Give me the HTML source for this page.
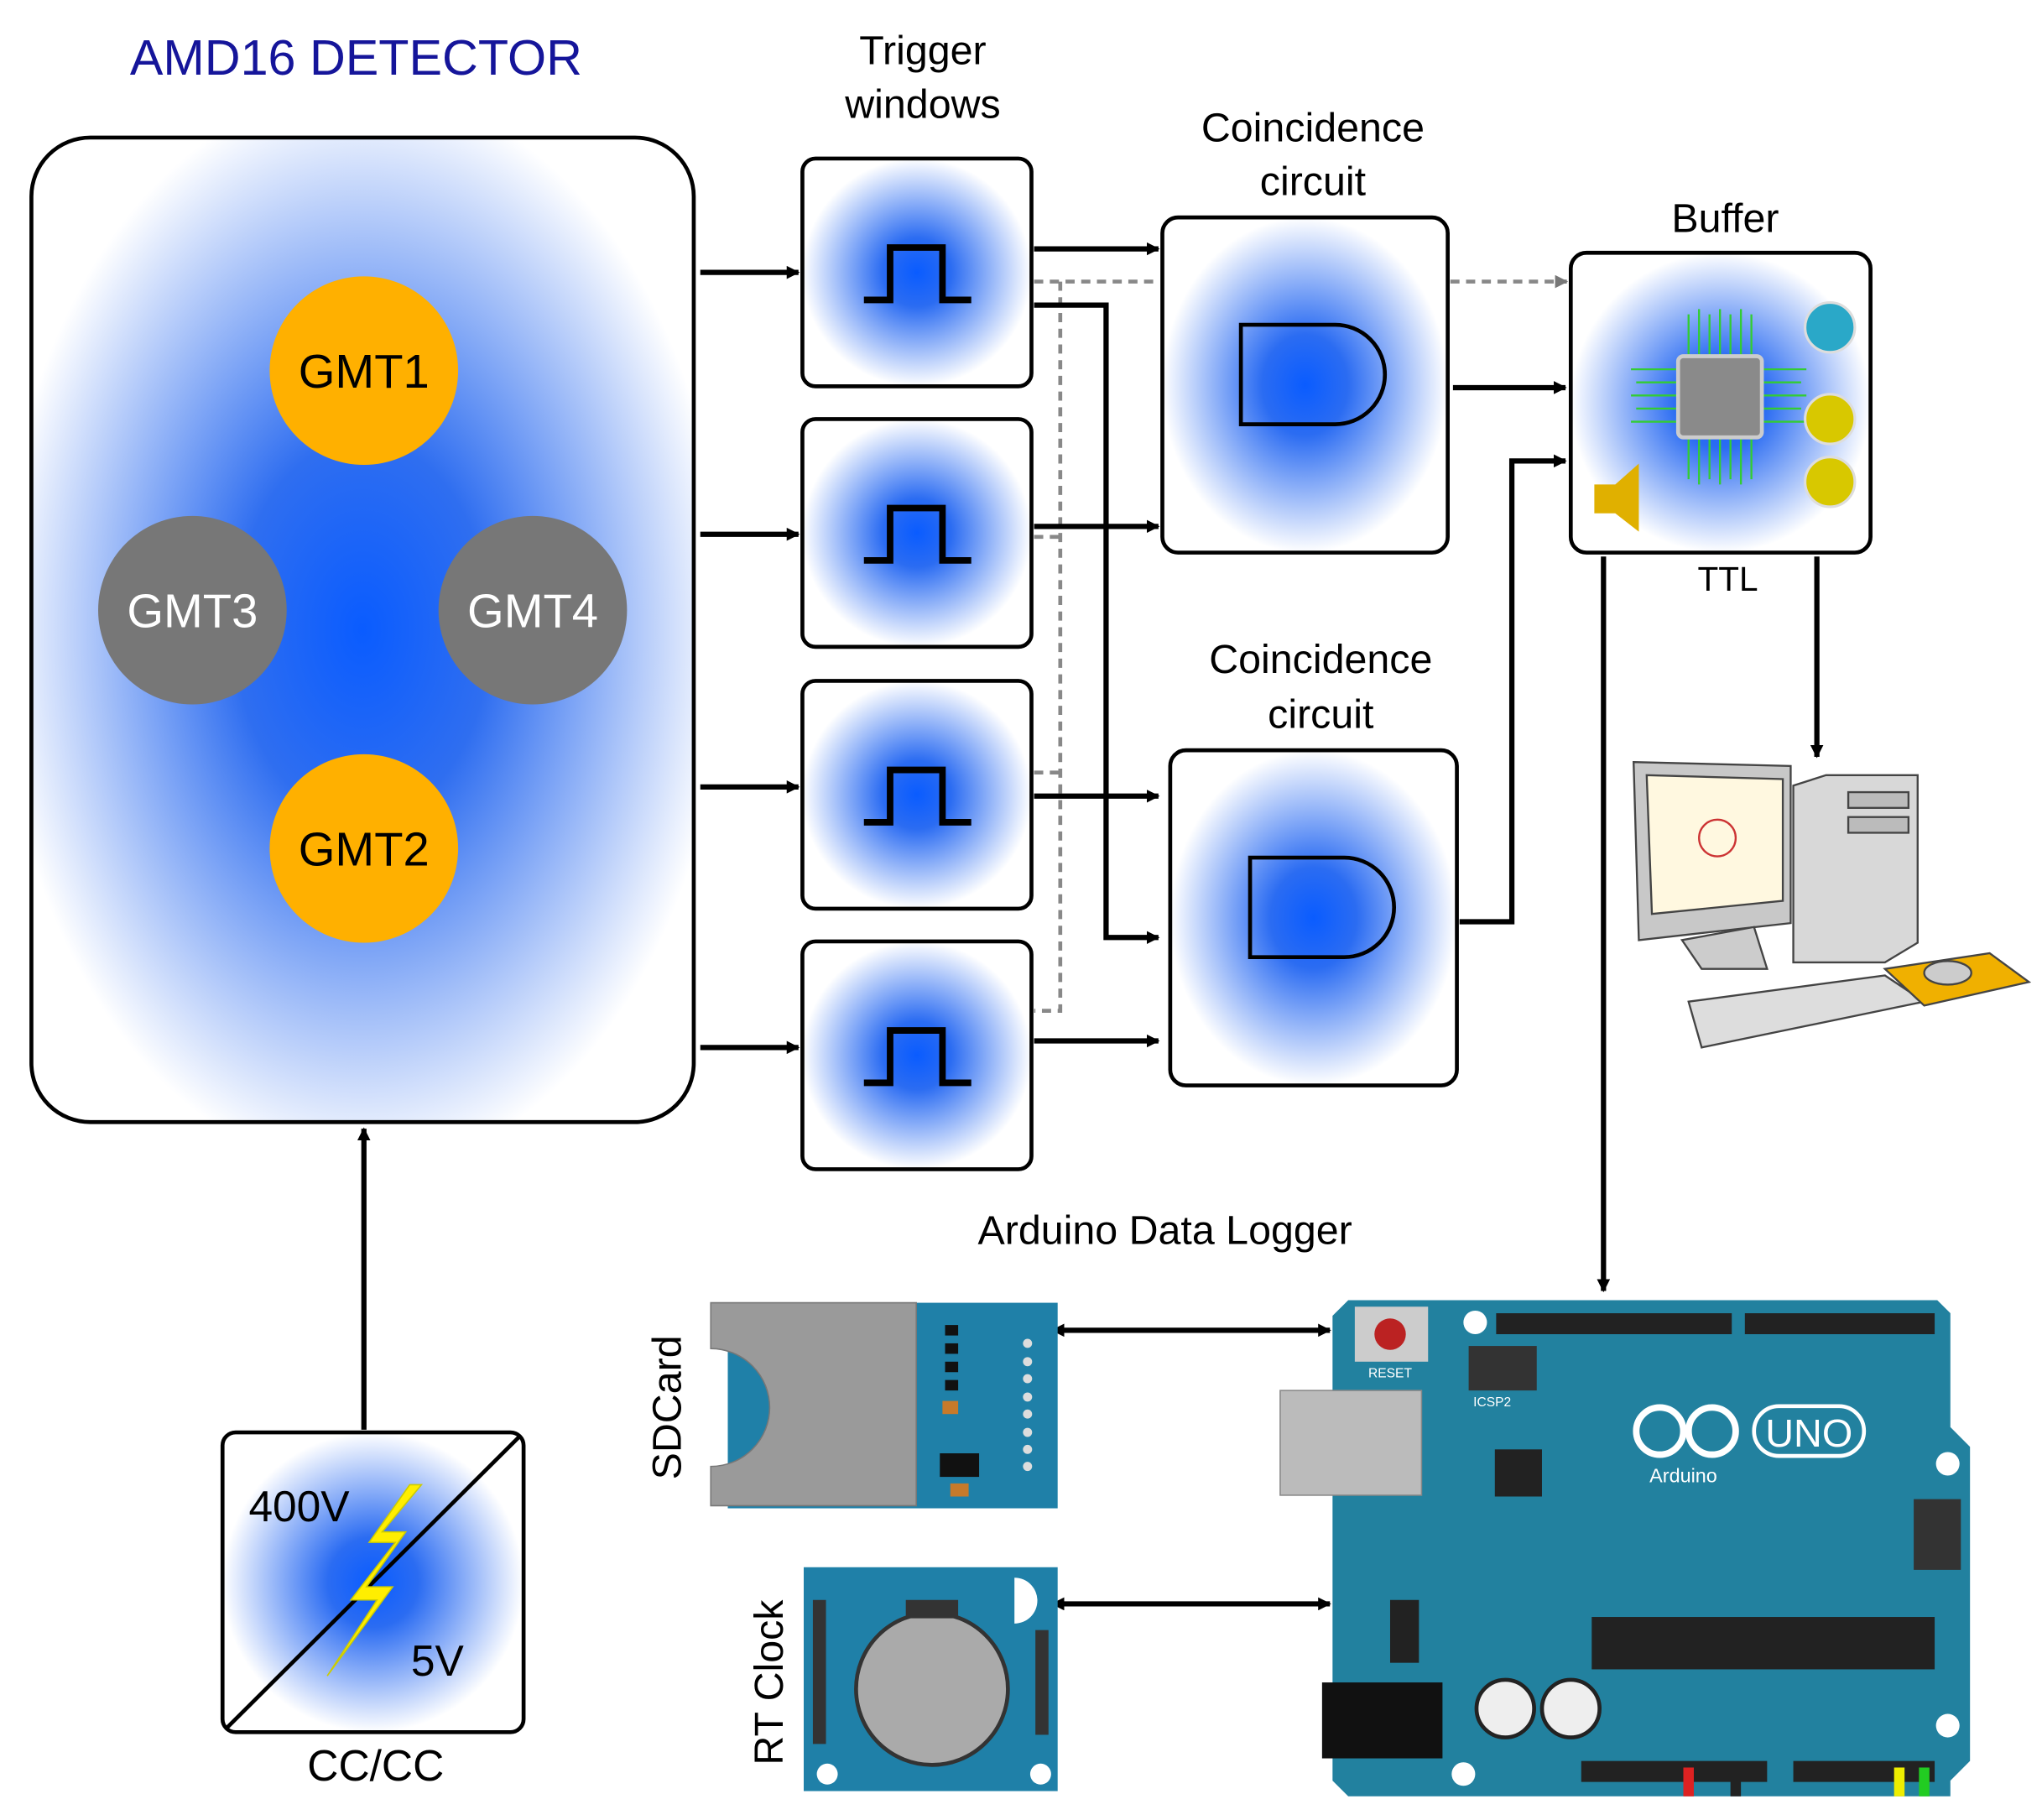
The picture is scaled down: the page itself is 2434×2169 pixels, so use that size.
<!DOCTYPE html>
<html><head><meta charset="utf-8"><style>html,body{margin:0;padding:0;background:#fff}svg{display:block}</style></head>
<body>
<svg width="2434" height="2169" viewBox="0 0 1560 1390" xmlns="http://www.w3.org/2000/svg" font-family="Liberation Sans, sans-serif">
<defs>
<radialGradient id="g1" cx="50%" cy="50%" r="55%"><stop offset="0" stop-color="#0a5cff"/><stop offset="0.35" stop-color="#2f6ef0"/><stop offset="1" stop-color="#fff"/></radialGradient>
<radialGradient id="g2" cx="50%" cy="50%" r="50%"><stop offset="0" stop-color="#0a5cff"/><stop offset="0.3" stop-color="#2b6cf2"/><stop offset="1" stop-color="#fff"/></radialGradient>
<marker id="ah" markerWidth="10" markerHeight="10" refX="9" refY="5" orient="auto" markerUnits="userSpaceOnUse"><path d="M0,0 L10,5 L0,10 z" fill="#000"/></marker>
<marker id="ahs" markerWidth="10" markerHeight="10" refX="1" refY="5" orient="auto-start-reverse" markerUnits="userSpaceOnUse"><path d="M0,0 L10,5 L0,10 z" fill="#000"/></marker>
<marker id="ahg" markerWidth="10" markerHeight="10" refX="9" refY="5" orient="auto" markerUnits="userSpaceOnUse"><path d="M0,0 L10,5 L0,10 z" fill="#777"/></marker>
</defs>

<text x="272" y="57" font-size="38" fill="#15159a" text-anchor="middle">AMD16 DETECTOR</text>
<rect x="24" y="105" width="506" height="752" rx="45" fill="url(#g1)" stroke="#000" stroke-width="3"/>
<circle cx="278" cy="283" r="72" fill="#FFB000"/><text x="278" y="296" font-size="36" text-anchor="middle">GMT1</text>
<circle cx="278" cy="648" r="72" fill="#FFB000"/><text x="278" y="661" font-size="36" text-anchor="middle">GMT2</text>
<circle cx="147" cy="466" r="72" fill="#777"/><text x="147" y="479" font-size="36" text-anchor="middle" fill="#fff">GMT3</text>
<circle cx="407" cy="466" r="72" fill="#777"/><text x="407" y="479" font-size="36" text-anchor="middle" fill="#fff">GMT4</text>

<g stroke="#000" stroke-width="4" fill="none" marker-end="url(#ah)">
<path d="M535 208H610"/><path d="M535 408H610"/><path d="M535 601H610"/><path d="M535 800H610"/>
</g>

<text x="705" y="49" font-size="31" text-anchor="middle">Trigger</text>
<text x="705" y="90" font-size="31" text-anchor="middle">windows</text>
<g stroke="#000" stroke-width="3">
<rect x="613" y="121" width="175" height="174" rx="10" fill="url(#g2)"/>
<rect x="613" y="320" width="175" height="174" rx="10" fill="url(#g2)"/>
<rect x="613" y="520" width="175" height="174" rx="10" fill="url(#g2)"/>
<rect x="613" y="719" width="175" height="174" rx="10" fill="url(#g2)"/>
</g>
<g stroke="#000" stroke-width="5" fill="none">
<path d="M660 229H680V189H720V229H742"/>
<path d="M660 428H680V388H720V428H742"/>
<path d="M660 628H680V588H720V628H742"/>
<path d="M660 827H680V787H720V827H742"/>
</g>

<text x="1003" y="108" font-size="31" text-anchor="middle">Coincidence</text>
<text x="1003" y="149" font-size="31" text-anchor="middle">circuit</text>
<rect x="888" y="166" width="218" height="256" rx="12" fill="url(#g2)" stroke="#000" stroke-width="3"/>
<path d="M948 248H1020A38 38 0 0 1 1020 324H948Z" fill="none" stroke="#000" stroke-width="3"/>
<text x="1009" y="514" font-size="31" text-anchor="middle">Coincidence</text>
<text x="1009" y="556" font-size="31" text-anchor="middle">circuit</text>
<rect x="894" y="573" width="219" height="256" rx="12" fill="url(#g2)" stroke="#000" stroke-width="3"/>
<path d="M955 655H1027A38 38 0 0 1 1027 731H955Z" fill="none" stroke="#000" stroke-width="3"/>

<text x="1318" y="177" font-size="31" text-anchor="middle">Buffer</text>
<rect x="1200" y="193" width="229" height="229" rx="12" fill="url(#g2)" stroke="#000" stroke-width="3"/>
<text x="1320" y="451" font-size="26" text-anchor="middle">TTL</text>
<!-- chip -->
<g stroke="#3c3" stroke-width="1.5" fill="none">
<path d="M1290 272V240M1298 272V236M1306 272V240M1314 272V236M1322 272V240M1330 272V236M1338 272V240"/>
<path d="M1290 334V366M1298 334V370M1306 334V366M1314 334V370M1322 334V366M1330 334V370M1338 334V366"/>
<path d="M1282 282H1246M1282 292H1250M1282 302H1246M1282 312H1250M1282 322H1246"/>
<path d="M1346 282H1380M1346 292H1376M1346 302H1380M1346 312H1376M1346 322H1380"/>
</g>
<rect x="1282" y="272" width="64" height="62" rx="4" fill="#8a8a8a" stroke="#ccc" stroke-width="3"/>
<circle cx="1398" cy="250" r="19" fill="#2aa8c8" stroke="#ddd" stroke-width="2"/>
<circle cx="1398" cy="320" r="19" fill="#d8c800" stroke="#ddd" stroke-width="2"/>
<circle cx="1398" cy="368" r="19" fill="#d8c800" stroke="#ddd" stroke-width="2"/>
<path d="M1218 370H1234L1252 354V406L1234 392H1218Z" fill="#e0b000"/>

<!-- connectors -->
<g stroke="#888" stroke-width="3" stroke-dasharray="7,5" fill="none">
<path d="M790 215H885"/><path d="M1108 215H1195"/>
<path d="M810 215V772H790"/><path d="M790 410H810"/><path d="M790 590H810"/>
</g>
<path d="M1190 215H1197" stroke="#777" stroke-width="3" marker-end="url(#ahg)"/>
<g stroke="#000" stroke-width="4" fill="none" marker-end="url(#ah)">
<path d="M790 190H885"/>
<path d="M790 233H845V716H885"/>
<path d="M790 402H885"/>
<path d="M790 608H885"/>
<path d="M790 795H885"/>
<path d="M1110 296H1196"/>
<path d="M1115 704H1155V352H1196"/>
<path d="M1225 425V986"/>
<path d="M1388 425V578"/>
<path d="M278 1092V862"/>
</g>
<g stroke="#000" stroke-width="4" fill="none" marker-start="url(#ahs)" marker-end="url(#ah)">
<path d="M812 1016H1016"/><path d="M812 1225H1016"/>
</g>

<!-- computer -->
<g stroke="#444" stroke-width="1.5">
<path d="M1370 600L1395 592H1465V720L1440 735H1370Z" fill="#d8d8d8"/>
<rect x="1412" y="605" width="46" height="12" fill="#bbb"/><rect x="1412" y="624" width="46" height="12" fill="#bbb"/>
<path d="M1248 582L1368 585V705L1252 718Z" fill="#c8c8c8"/>
<path d="M1258 592L1362 595V688L1262 698Z" fill="#fff8e0"/>
<path d="M1285 718L1300 740H1350L1340 708Z" fill="#ccc"/>
<path d="M1290 765L1440 745L1470 765L1300 800Z" fill="#ddd"/>
<path d="M1440 740L1520 728L1550 750L1470 768Z" fill="#f0b000"/>
<ellipse cx="1488" cy="743" rx="18" ry="9" fill="#ccc"/>
</g>
<circle cx="1312" cy="640" r="14" fill="none" stroke="#c33" stroke-width="1.5"/>

<!-- power -->
<rect x="170" y="1094" width="230" height="229" rx="10" fill="url(#g2)" stroke="#000" stroke-width="3"/>
<path d="M172 1321L398 1096" stroke="#000" stroke-width="3"/>
<path d="M313 1134L282 1178L302 1178L268 1222L288 1222L250 1280L300 1212L280 1212L310 1170L292 1170L322 1134Z" fill="#ffee00" stroke="#cc0" stroke-width="1"/>
<text x="190" y="1162" font-size="33">400V</text>
<text x="314" y="1280" font-size="33">5V</text>
<text x="287" y="1360" font-size="33" text-anchor="middle">CC/CC</text>

<text x="890" y="950" font-size="31" text-anchor="middle">Arduino Data Logger</text>

<!-- SD card -->
<text transform="translate(520,1075) rotate(-90)" font-size="31" text-anchor="middle">SDCard</text>
<rect x="556" y="995" width="252" height="157" fill="#1f80a8"/>
<path d="M543 995H700V1150H543V1120A45 45 0 0 0 543 1030Z" fill="#9a9a9a" stroke="#777"/>
<rect x="718" y="1110" width="30" height="18" fill="#111"/><rect x="720" y="1070" width="12" height="10" fill="#c77a2a"/><rect x="726" y="1133" width="14" height="10" fill="#c77a2a"/>
<g fill="#111"><rect x="722" y="1012" width="10" height="8"/><rect x="722" y="1026" width="10" height="8"/><rect x="722" y="1040" width="10" height="8"/><rect x="722" y="1054" width="10" height="8"/></g>
<g fill="#ddd"><circle cx="785" cy="1026" r="3.5"/><circle cx="785" cy="1040" r="3.5"/><circle cx="785" cy="1053" r="3.5"/><circle cx="785" cy="1067" r="3.5"/><circle cx="785" cy="1080" r="3.5"/><circle cx="785" cy="1094" r="3.5"/><circle cx="785" cy="1107" r="3.5"/><circle cx="785" cy="1120" r="3.5"/></g>

<!-- RT clock -->
<text transform="translate(598,1285) rotate(-90)" font-size="31" text-anchor="middle">RT Clock</text>
<rect x="614" y="1197" width="194" height="171" fill="#1f80a8"/>
<circle cx="712" cy="1290" r="58" fill="#aaa" stroke="#333" stroke-width="3"/>
<rect x="692" y="1222" width="40" height="14" fill="#333"/>
<g fill="#333"><rect x="621" y="1222" width="10" height="110"/><rect x="791" y="1245" width="10" height="80"/></g>
<circle cx="632" cy="1355" r="8" fill="#fff"/><circle cx="795" cy="1355" r="8" fill="#fff"/>
<path d="M775 1205A16 16 0 0 1 775 1240Z" fill="#fff"/>

<!-- Arduino -->
<path d="M1030 993H1480L1490 1003V1090L1505 1105V1345L1490 1360V1372H1030L1018 1360V1005Z" fill="#22819f"/>
<rect x="978" y="1062" width="108" height="80" fill="#bbb" stroke="#888"/>
<rect x="1010" y="1285" width="92" height="58" fill="#111"/>
<rect x="1035" y="998" width="56" height="42" fill="#ccc"/><circle cx="1062" cy="1019" r="12" fill="#b22"/>
<rect x="1143" y="1003" width="180" height="16" fill="#222"/><rect x="1333" y="1003" width="145" height="16" fill="#222"/>
<rect x="1216" y="1235" width="262" height="40" fill="#222"/>
<rect x="1142" y="1107" width="36" height="36" fill="#222"/>
<rect x="1208" y="1345" width="142" height="16" fill="#222"/><rect x="1370" y="1345" width="108" height="16" fill="#222"/>
<rect x="1122" y="1028" width="52" height="34" fill="#333"/><rect x="1462" y="1145" width="36" height="54" fill="#333"/>
<rect x="1062" y="1222" width="22" height="48" fill="#222"/>
<circle cx="1150" cy="1305" r="22" fill="#eee" stroke="#222" stroke-width="3"/><circle cx="1200" cy="1305" r="22" fill="#eee" stroke="#222" stroke-width="3"/>
<circle cx="1127" cy="1010" r="9" fill="#fff"/><circle cx="1118" cy="1355" r="9" fill="#fff"/><circle cx="1488" cy="1118" r="9" fill="#fff"/><circle cx="1488" cy="1318" r="9" fill="#fff"/>
<g fill="none" stroke="#fff" stroke-width="5"><circle cx="1268" cy="1093" r="18"/><circle cx="1308" cy="1093" r="18"/></g>
<rect x="1340" y="1074" width="84" height="38" rx="19" fill="none" stroke="#fff" stroke-width="3"/>
<text x="1382" y="1105" font-size="30" fill="#fff" text-anchor="middle">UNO</text>
<text x="1286" y="1132" font-size="15" fill="#fff" text-anchor="middle">Arduino</text>
<text x="1062" y="1052" font-size="10" fill="#fff" text-anchor="middle">RESET</text>
<text x="1140" y="1074" font-size="10" fill="#fff" text-anchor="middle">ICSP2</text>
<rect x="1286" y="1350" width="8" height="22" fill="#d22"/><rect x="1322" y="1350" width="8" height="22" fill="#222"/>
<rect x="1447" y="1350" width="8" height="22" fill="#ee0"/><rect x="1466" y="1350" width="8" height="22" fill="#2c2"/>
</svg>
</body></html>
